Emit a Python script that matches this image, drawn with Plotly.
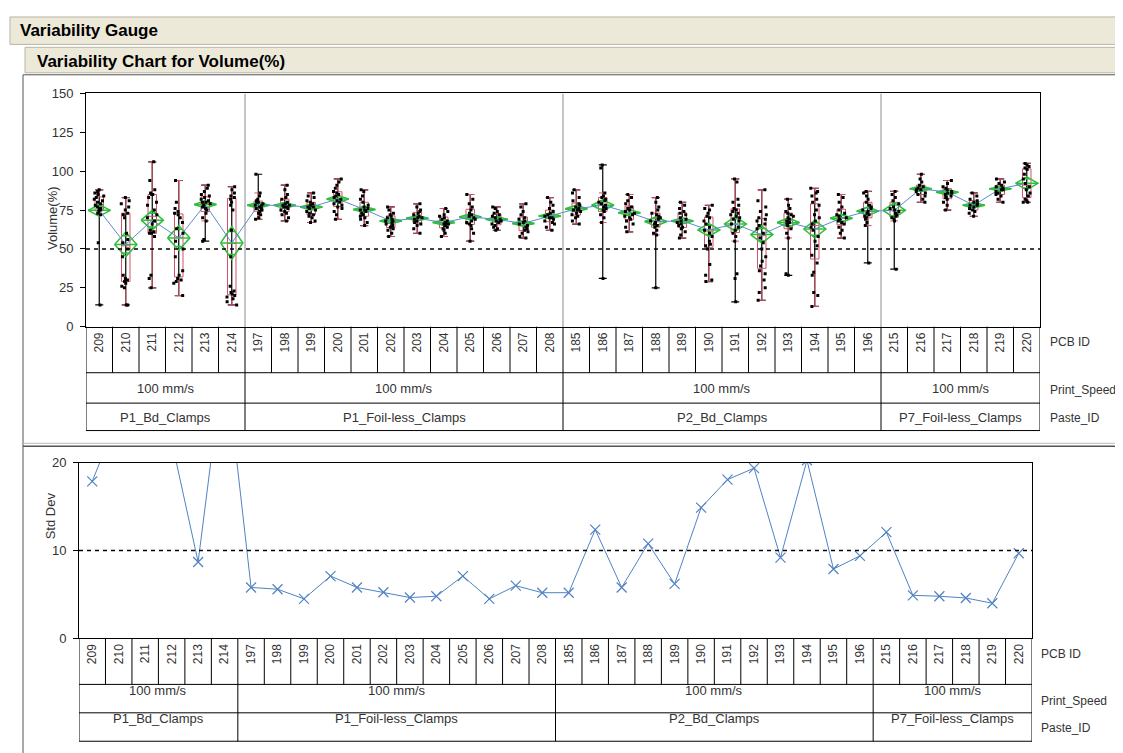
import math
import plotly.graph_objects as go

W, H = 1123, 753

# ---------------- data ----------------
pcb_ids = ["209", "210", "211", "212", "213", "214",
           "197", "198", "199", "200", "201", "202", "203", "204", "205", "206", "207", "208",
           "185", "186", "187", "188", "189", "190", "191", "192", "193", "194", "195", "196",
           "215", "216", "217", "218", "219", "220"]
print_speed_groups = ["100 mm/s", "100 mm/s", "100 mm/s", "100 mm/s"]
paste_id_groups = ["P1_Bd_Clamps", "P1_Foil-less_Clamps", "P2_Bd_Clamps", "P7_Foil-less_Clamps"]
group_sizes = [6, 12, 12, 6]

cell_means = [74.8, 52.9, 68.5, 57.1, 78.6, 53.8,
              78.1, 78.0, 76.9, 82.1, 75.4, 68.0, 69.7, 67.0, 70.6, 69.0, 66.4, 71.2,
              75.8, 78.1, 73.3, 67.6, 68.0, 62.2, 66.0, 59.2, 67.0, 62.8, 69.7, 74.3,
              74.8, 88.7, 86.5, 78.1, 88.7, 92.2]

diamond_half = [3.7, 7.9, 6.3, 7.9, 2.3, 10.5,
                2.0, 2.0, 2.0, 2.2, 2.0, 1.8, 1.8, 1.8, 2.0, 1.8, 1.8, 1.8,
                2.2, 3.5, 2.0, 3.0, 2.0, 4.2, 4.7, 5.5, 3.0, 5.7, 2.5, 2.8,
                4.9, 1.8, 1.8, 1.8, 1.5, 4.2]

std_devs = [17.9, 25.4, 21.0, 22.5, 8.7, 32.5,
            5.8, 5.6, 4.5, 7.1, 5.8, 5.25, 4.65, 4.8, 7.1, 4.5, 6.0, 5.2,
            5.2, 12.4, 5.8, 10.8, 6.2, 14.9, 18.1, 19.4, 9.2, 20.3, 7.9, 9.4,
            12.1, 4.9, 4.8, 4.6, 4.0, 9.7]

volume_points = [
    [88, 87, 86, 85, 84, 83, 82, 81, 80, 79, 78, 77, 76, 76, 75, 74, 73, 72, 54, 14],
    [83, 81, 79, 77, 75, 73, 72, 70, 60, 56, 54, 50, 45, 33, 31, 30, 29, 28, 26, 25, 14, 14],
    [106, 94, 88, 86, 85, 85, 83, 80, 78, 75, 72, 70, 68, 66, 62, 61, 60, 60, 58, 33, 31, 25],
    [94, 80, 76, 74, 73, 72, 70, 67, 63, 60, 55, 50, 45, 36, 33, 31, 30, 29, 28, 20],
    [91, 89, 87, 85, 84, 83, 82, 81, 80, 80, 79, 78, 77, 76, 75, 73, 70, 68, 56, 55],
    [90, 88, 86, 84, 83, 82, 80, 78, 75, 62, 45, 26, 23, 22, 21, 20, 19, 18, 16, 14],
    [98, 86, 84, 82, 81, 80, 80, 79, 78, 78, 77, 76, 76, 75, 74, 73, 72, 70, 69],
    [91, 88, 85, 83, 82, 80, 79, 78, 78, 77, 77, 76, 75, 74, 73, 72, 70, 68],
    [86, 84, 83, 81, 80, 79, 78, 77, 77, 76, 75, 74, 73, 72, 71, 70, 68, 67],
    [95, 93, 91, 89, 87, 86, 85, 84, 83, 82, 81, 80, 79, 78, 77, 76, 74, 72, 69],
    [88, 87, 84, 82, 80, 78, 77, 76, 75, 75, 74, 73, 72, 71, 70, 69, 67, 65],
    [77, 75, 73, 72, 71, 70, 69, 68, 68, 67, 66, 65, 64, 63, 62, 60, 58],
    [79, 77, 75, 74, 73, 72, 71, 70, 70, 69, 68, 67, 66, 65, 63, 60],
    [76, 74, 72, 71, 70, 69, 68, 67, 66, 66, 65, 64, 63, 62, 60, 58],
    [85, 82, 79, 77, 75, 73, 72, 71, 70, 69, 68, 67, 66, 65, 63, 60, 55],
    [77, 76, 74, 73, 72, 71, 70, 69, 68, 68, 67, 66, 65, 64, 63, 62],
    [79, 77, 74, 72, 70, 69, 68, 67, 66, 65, 64, 63, 62, 61, 60, 58, 57],
    [83, 80, 78, 76, 74, 73, 72, 71, 70, 70, 69, 68, 67, 66, 64, 62],
    [88, 86, 83, 81, 79, 78, 77, 76, 75, 75, 74, 73, 72, 71, 70, 68, 66],
    [104, 102, 86, 84, 83, 82, 81, 80, 79, 78, 77, 76, 75, 74, 72, 70, 67, 31],
    [85, 83, 81, 79, 77, 76, 75, 74, 73, 72, 71, 70, 69, 68, 66, 64, 61],
    [83, 80, 77, 75, 73, 72, 71, 70, 69, 68, 67, 66, 65, 64, 62, 60, 59, 25],
    [80, 78, 76, 74, 73, 72, 70, 69, 68, 67, 66, 65, 64, 63, 61, 59, 57],
    [78, 76, 75, 73, 71, 70, 68, 66, 64, 62, 60, 58, 55, 53, 52, 50, 40, 33, 30, 29],
    [95, 93, 82, 80, 78, 76, 75, 74, 73, 72, 71, 70, 69, 68, 66, 64, 62, 60, 58, 55, 34, 31, 16],
    [88, 81, 77, 74, 72, 70, 69, 68, 66, 65, 63, 60, 57, 54, 50, 45, 42, 39, 36, 34, 30, 25, 22, 17],
    [82, 78, 76, 74, 73, 72, 71, 70, 69, 68, 67, 66, 65, 63, 60, 57, 34, 33],
    [89, 87, 86, 84, 82, 80, 78, 75, 72, 70, 68, 66, 64, 62, 58, 55, 52, 46, 41, 35, 33, 22, 20, 13],
    [85, 83, 80, 77, 75, 73, 72, 71, 70, 69, 68, 67, 66, 64, 62, 60, 57],
    [87, 86, 84, 82, 80, 78, 77, 76, 75, 74, 73, 72, 71, 70, 69, 67, 65, 41],
    [87, 85, 83, 81, 79, 77, 76, 75, 74, 73, 72, 71, 70, 69, 68, 37],
    [98, 95, 93, 91, 90, 89, 88, 88, 87, 86, 85, 84, 82, 80],
    [94, 92, 90, 89, 88, 87, 86, 86, 85, 84, 83, 82, 80, 78, 75],
    [86, 84, 82, 81, 80, 79, 78, 78, 77, 76, 75, 74, 73, 71],
    [95, 93, 92, 91, 90, 89, 88, 88, 87, 86, 85, 84, 82, 80],
    [105, 104, 103, 102, 101, 98, 95, 92, 90, 88, 86, 84, 82, 81, 80, 80],
]

volume_ticks = [0, 25, 50, 75, 100, 125, 150]
sd_ticks = [0, 10, 20]
volume_ref = 50
sd_ref = 10

# ---------------- helpers ----------------
FONT = "Arial, 'Liberation Sans', sans-serif"
TXT = "#333333"


def fx(px):
    return px / W


def fy(py):
    return 1 - py / H


n = len(pcb_ids)
idx = list(range(n))
flat_x, flat_y = [], []
for i, pts in enumerate(volume_points):
    flat_x += [i] * len(pts)
    flat_y += pts
mins = [min(p) for p in volume_points]
maxs = [max(p) for p in volume_points]

fig = go.Figure()

# --- base layer (x, y): range bars (black)
fig.add_trace(go.Scatter(
    x=idx, y=[(a + b) / 2 for a, b in zip(mins, maxs)], mode="markers",
    marker=dict(size=1, color="rgba(0,0,0,0)"),
    error_y=dict(type="data", symmetric=True, array=[(b - a) / 2 for a, b in zip(mins, maxs)],
                 color="black", thickness=1.2, width=4),
    xaxis="x", yaxis="y", hoverinfo="skip", showlegend=False))

# --- overlay 1 (x3, y3): box plots (red, whiskers to 1.5 IQR), mean diamonds, connected means
fig.add_trace(go.Box(
    x=flat_x, y=flat_y, boxpoints="outliers", width=0.32, whiskerwidth=0.9,
    marker=dict(size=1, opacity=0, color="rgba(0,0,0,0)", outliercolor="rgba(0,0,0,0)"),
    line=dict(color="rgb(214,80,105)", width=1), fillcolor="rgba(0,0,0,0)",
    xaxis="x3", yaxis="y3", hoverinfo="skip", showlegend=False))

dx, dy = [], []
for i, (m, h) in enumerate(zip(cell_means, diamond_half)):
    hw = 0.42
    dx += [i - hw, i, i + hw, i, i - hw, None, i - hw, i + hw, None]
    dy += [m, m + h, m, m - h, m, None, m, m, None]
    o = h / math.sqrt(2)
    ow = hw * (1 - 1 / math.sqrt(2))
    dx += [i - ow, i + ow, None, i - ow, i + ow, None]
    dy += [m + o, m + o, None, m - o, m - o, None]
fig.add_trace(go.Scatter(
    x=dx, y=dy, mode="lines", line=dict(color="rgb(46,190,60)", width=1.5),
    xaxis="x3", yaxis="y3", hoverinfo="skip", showlegend=False))

fig.add_trace(go.Scatter(
    x=idx, y=cell_means, mode="lines", line=dict(color="rgb(90,140,205)", width=1),
    xaxis="x3", yaxis="y3", hoverinfo="skip", showlegend=False))

# --- overlay 2 (x4, y4): raw points (black, jittered) on top
fig.add_trace(go.Box(
    x=flat_x, y=flat_y, boxpoints="all", jitter=0.9, pointpos=0, width=0.45,
    line=dict(color="rgba(0,0,0,0)", width=0), fillcolor="rgba(0,0,0,0)",
    marker=dict(color="black", size=3, symbol="square"),
    xaxis="x4", yaxis="y4", hoverinfo="skip", showlegend=False))

# --- std dev chart
fig.add_trace(go.Scatter(
    x=idx, y=std_devs, mode="lines+markers",
    line=dict(color="rgb(80,130,195)", width=1),
    marker=dict(symbol="x-thin", size=10, line=dict(color="rgb(80,130,195)", width=1.2)),
    xaxis="x2", yaxis="y2", hoverinfo="skip", showlegend=False))

# ---------------- layout ----------------
top_dom_x = [fx(78), fx(1032)]
top_dom_y = [fy(318), fy(80)]
bot_dom_x = [fx(71), fx(1024)]
bot_dom_y = [fy(636), fy(457)]

xcommon = dict(range=[-0.5, n - 0.5], tickmode="array", tickvals=idx, ticktext=pcb_ids,
               tickangle=-90, ticks="", showgrid=False, zeroline=False, showline=True,
               mirror=True, linecolor="black", linewidth=1,
               tickfont=dict(family=FONT, size=12, color=TXT))
ycommon = dict(showgrid=False, zeroline=False, showline=True, mirror=True, linecolor="black",
               linewidth=1, ticks="outside", ticklen=5, tickcolor="black",
               tickfont=dict(family=FONT, size=13, color=TXT), ticklabelstandoff=4)
hidden_x = dict(overlaying="x", range=[-0.5, n - 0.5], visible=False, showgrid=False, zeroline=False)
hidden_y = dict(overlaying="y", range=[0, 150], visible=False, showgrid=False, zeroline=False)

shapes = []
annotations = []

# header bars
shapes.append(dict(type="rect", xref="paper", yref="paper", x0=fx(2), x1=fx(1125), y0=fy(30), y1=fy(2),
                   fillcolor="#ECE9D8", line=dict(color="#B8B5A6", width=1), layer="below"))
shapes.append(dict(type="rect", xref="paper", yref="paper", x0=fx(17), x1=fx(1125), y0=fy(59), y1=fy(33),
                   fillcolor="#ECE9D8", line=dict(color="#B8B5A6", width=1), layer="below"))
annotations.append(dict(text="<b>Variability Gauge</b>", xref="paper", yref="paper", x=fx(10), y=fy(16),
                        xanchor="left", yanchor="middle", showarrow=False,
                        font=dict(family=FONT, size=17, color="black")))
annotations.append(dict(text="<b>Variability Chart for Volume(%)</b>", xref="paper", yref="paper",
                        x=fx(27), y=fy(47), xanchor="left", yanchor="middle", showarrow=False,
                        font=dict(family=FONT, size=17, color="black")))

# outer frame lines
frame = "#555555"
shapes.append(dict(type="line", xref="paper", yref="paper", x0=fx(15), x1=fx(15), y0=fy(61), y1=0,
                   line=dict(color=frame, width=1)))
shapes.append(dict(type="line", xref="paper", yref="paper", x0=fx(15), x1=1, y0=fy(61), y1=fy(61),
                   line=dict(color=frame, width=1)))
shapes.append(dict(type="line", xref="paper", yref="paper", x0=fx(15), x1=1, y0=fy(437), y1=fy(437),
                   line=dict(color="#BBBBBB", width=1)))
shapes.append(dict(type="line", xref="paper", yref="paper", x0=fx(15), x1=1, y0=fy(440), y1=fy(440),
                   line=dict(color=frame, width=1.5)))

# group boundaries (in index units)
bounds = [-0.5]
for s in group_sizes:
    bounds.append(bounds[-1] + s)
centers = [(bounds[k] + bounds[k + 1]) / 2 for k in range(len(group_sizes))]


def add_table(xr, rows_px, label_x_px):
    r0, r1, r2, r3 = rows_px
    for r in (r1, r2, r3):
        shapes.append(dict(type="line", xref=xr, yref="paper", x0=-0.5, x1=n - 0.5, y0=fy(r), y1=fy(r),
                           line=dict(color="black", width=1)))
    for k in range(n + 1):
        shapes.append(dict(type="line", xref=xr, yref="paper", x0=k - 0.5, x1=k - 0.5, y0=fy(r0), y1=fy(r1),
                           line=dict(color="black", width=1)))
    for b in bounds:
        shapes.append(dict(type="line", xref=xr, yref="paper", x0=b, x1=b, y0=fy(r1), y1=fy(r3),
                           line=dict(color="black", width=1)))
    for c, sp, pid in zip(centers, print_speed_groups, paste_id_groups):
        annotations.append(dict(text=sp, xref=xr, yref="paper", x=c, y=fy((r1 + r2) / 2 + 1),
                                showarrow=False, font=dict(family=FONT, size=13, color=TXT)))
        annotations.append(dict(text=pid, xref=xr, yref="paper", x=c, y=fy((r2 + r3) / 2 + 1),
                                showarrow=False, font=dict(family=FONT, size=13, color=TXT)))
    for text, ypx in (("PCB ID", r0 + 16), ("Print_Speed", (r1 + r2) / 2 + 2), ("Paste_ID", (r2 + r3) / 2 + 1)):
        annotations.append(dict(text=text, xref="paper", yref="paper", x=fx(label_x_px), y=fy(ypx),
                                xanchor="left", yanchor="middle", showarrow=False,
                                font=dict(family=FONT, size=12, color=TXT)))


add_table("x", (318, 365, 396, 424), 1040)
add_table("x2", (636, 683, 712, 741), 1031)

# group separators inside top plot
for b in bounds[1:-1]:
    shapes.append(dict(type="line", xref="x", yref="y", x0=b, x1=b, y0=0, y1=150,
                       line=dict(color="#8C8C8C", width=1)))

# reference dashed lines
shapes.append(dict(type="line", xref="x", yref="y", x0=-0.5, x1=n - 0.5, y0=volume_ref, y1=volume_ref,
                   line=dict(color="black", width=1.5, dash="4px,4px")))
shapes.append(dict(type="line", xref="x2", yref="y2", x0=-0.5, x1=n - 0.5, y0=sd_ref, y1=sd_ref,
                   line=dict(color="black", width=1.5, dash="4px,4px")))

# axis titles
annotations.append(dict(text="Volume(%)", xref="paper", yref="paper", x=fx(35), y=fy(173), textangle=-90,
                        showarrow=False, font=dict(family=FONT, size=13, color=TXT)))
annotations.append(dict(text="Std Dev", xref="paper", yref="paper", x=fx(33), y=fy(537), textangle=-90,
                        showarrow=False, font=dict(family=FONT, size=13, color=TXT)))

fig.update_layout(
    width=W, height=H, margin=dict(l=0, r=0, t=0, b=0),
    paper_bgcolor="white", plot_bgcolor="white", boxmode="overlay", showlegend=False,
    xaxis=dict(domain=top_dom_x, anchor="y", **xcommon),
    yaxis=dict(domain=top_dom_y, anchor="x", range=[0, 150], tickvals=volume_ticks, **ycommon),
    xaxis2=dict(domain=bot_dom_x, anchor="y2", **xcommon),
    yaxis2=dict(domain=bot_dom_y, anchor="x2", range=[0, 20], tickvals=sd_ticks, **ycommon),
    xaxis3=dict(anchor="y3", **hidden_x),
    yaxis3=dict(anchor="x3", **hidden_y),
    xaxis4=dict(anchor="y4", **hidden_x),
    yaxis4=dict(anchor="x4", **hidden_y),
    shapes=shapes, annotations=annotations,
)

fig.write_html("out.html")
